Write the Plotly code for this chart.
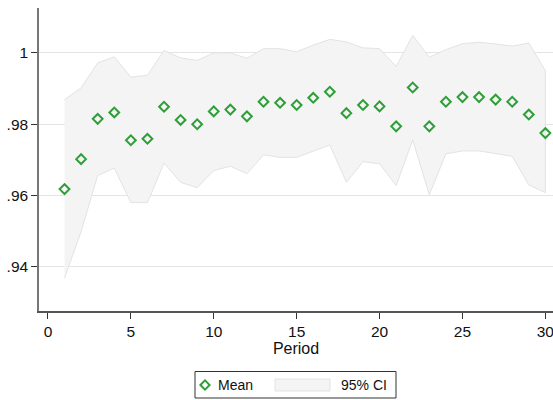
import plotly.graph_objects as go

periods = list(range(1, 31))
mean = [0.9618, 0.9702, 0.9815, 0.9833, 0.9755, 0.9759, 0.9849, 0.9812, 0.9800, 0.9836,
        0.9841, 0.9822, 0.9863, 0.9860, 0.9854, 0.9874, 0.9891, 0.9831, 0.9854, 0.9850,
        0.9794, 0.9903, 0.9794, 0.9863, 0.9876, 0.9876, 0.9869, 0.9863, 0.9827, 0.9775]
ci_upper = [0.9869, 0.9902, 0.9972, 0.9989, 0.9932, 0.9937, 1.0007, 0.9986, 0.9979, 1.0000,
            1.0000, 0.9985, 1.0012, 1.0012, 1.0003, 1.0022, 1.0038, 1.0031, 1.0014, 1.0012,
            0.9962, 1.0049, 0.9988, 1.0009, 1.0026, 1.0030, 1.0025, 1.0019, 1.0028, 0.9950]
ci_lower = [0.9368, 0.9499, 0.9656, 0.9677, 0.9580, 0.9580, 0.9691, 0.9637, 0.9622, 0.9670,
            0.9682, 0.9661, 0.9714, 0.9707, 0.9707, 0.9724, 0.9742, 0.9637, 0.9695, 0.9689,
            0.9628, 0.9756, 0.9602, 0.9717, 0.9725, 0.9725, 0.9717, 0.9710, 0.9630, 0.9608]

y_tickvals = [0.94, 0.96, 0.98, 1.0]
y_ticktext = [".94", ".96", ".98", "1"]
x_tickvals = [0, 5, 10, 15, 20, 25, 30]
legend_labels = ["Mean", "95% CI"]

font = "Liberation Sans, Arial, sans-serif"
GREEN = "#2e9e38"
FILL = "#f4f4f4"
EDGE = "#e3e3e3"

W, H = 553, 400
ML, MR, MT, MB = 39, 0, 8, 89
PW, PH = W - ML - MR, H - MT - MB


def px(x):
    return (x - ML) / PW


def py(y):
    return (H - MB - y) / PH


fig = go.Figure()
fig.add_trace(go.Scatter(
    x=periods + periods[::-1],
    y=ci_upper + ci_lower[::-1],
    fill="toself", fillcolor=FILL,
    line=dict(color=EDGE, width=1),
    mode="lines", name=legend_labels[1], hoverinfo="skip"))
fig.add_trace(go.Scatter(
    x=periods, y=mean, mode="markers", name=legend_labels[0],
    marker=dict(symbol="diamond-open", size=7.5, color=GREEN,
                line=dict(width=2, color=GREEN))))

# custom legend (box, marker key, band key, labels)
cy = 385
d = 4.6
shapes = [
    dict(type="rect", xref="paper", yref="paper", x0=px(195), x1=px(396),
         y0=py(398), y1=py(371.5), line=dict(color="#333", width=1), fillcolor="white"),
    dict(type="path", xref="paper", yref="paper",
         path=f"M {px(205-d)} {py(cy)} L {px(205)} {py(cy-d)} L {px(205+d)} {py(cy)} L {px(205)} {py(cy+d)} Z",
         line=dict(color=GREEN, width=2)),
    dict(type="rect", xref="paper", yref="paper", x0=px(275), x1=px(330),
         y0=py(391), y1=py(379), line=dict(color=EDGE, width=1), fillcolor=FILL),
]
annotations = [
    dict(text=legend_labels[0], xref="paper", yref="paper", x=px(216), y=py(cy),
         xanchor="left", yanchor="middle", showarrow=False, font=dict(size=14)),
    dict(text=legend_labels[1], xref="paper", yref="paper", x=px(339), y=py(cy),
         xanchor="left", yanchor="middle", showarrow=False, font=dict(size=14)),
]

fig.update_layout(
    width=W, height=H,
    margin=dict(l=ML, r=MR, t=MT, b=MB, autoexpand=False),
    paper_bgcolor="white", plot_bgcolor="white",
    font=dict(family=font, size=14, color="#111"),
    showlegend=False,
    shapes=shapes, annotations=annotations,
    xaxis=dict(range=[-0.54, 30.46], tickvals=x_tickvals, showgrid=False,
               zeroline=False, showline=True, linecolor="#555", linewidth=1.5,
               ticks="outside", ticklen=6, tickcolor="#333", tickfont=dict(size=15.5),
               automargin=False, ticklabeloverflow="allow",
               title=dict(text="Period", font=dict(size=16), standoff=2)),
    yaxis=dict(range=[0.9276, 1.0126], tickvals=y_tickvals, ticktext=y_ticktext,
               showgrid=True, gridcolor="#e4e4e4", gridwidth=1, zeroline=False,
               automargin=False,
               showline=True, linecolor="#777", linewidth=1.5,
               ticks="outside", ticklen=6, tickcolor="#333", tickfont=dict(size=15.5)),
)

fig.write_html("out.html", config={"displayModeBar": False},
               post_script="document.body.style.margin='0';")
